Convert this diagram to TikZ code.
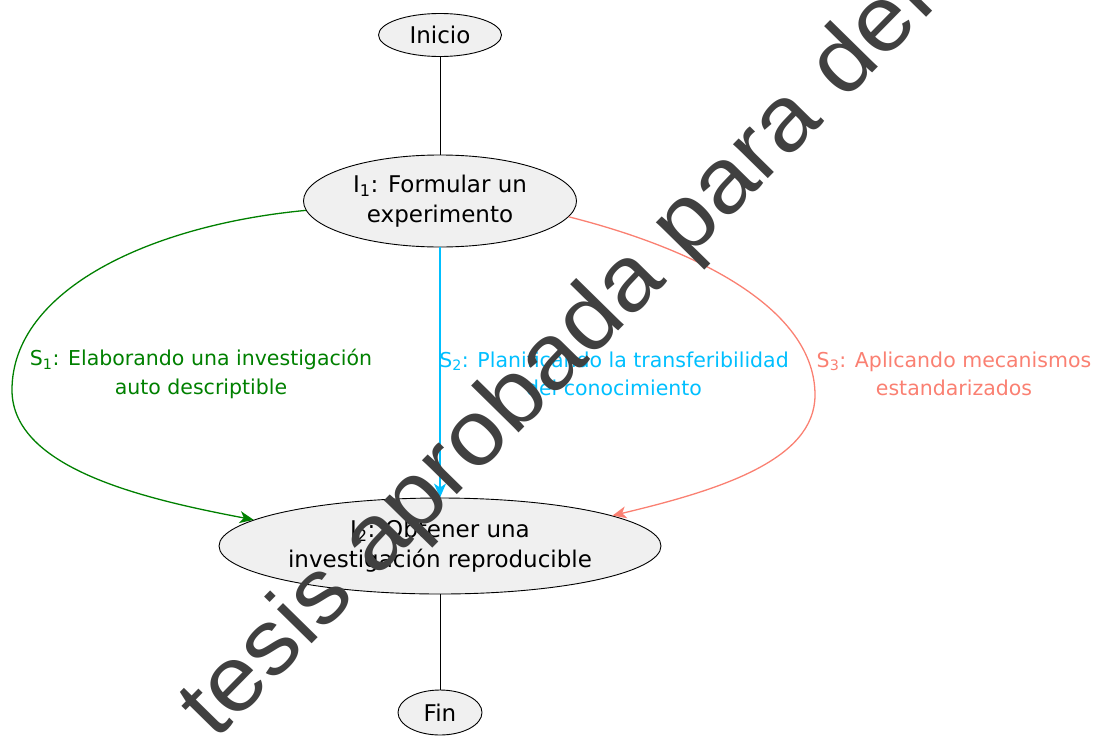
\documentclass[tikz,border=0pt]{standalone}
\usepackage{fontspec}
\setmainfont{DejaVu Sans}
\newfontfamily\wmfont[FakeStretch=1.07]{Liberation Sans}
\usetikzlibrary{shapes.geometric,arrows.meta}
\definecolor{nodefill}{HTML}{F0F0F0}
\definecolor{sgreen}{HTML}{008000}
\definecolor{sblue}{HTML}{00BFFF}
\definecolor{sred}{HTML}{FA8072}
\definecolor{wmgray}{HTML}{404040}
\begin{document}
\begin{tikzpicture}[x=1pt,y=-1pt,
  state/.style={ellipse,draw=black,line width=0.9pt,fill=nodefill,inner sep=0pt,align=center,font=\fontsize{23}{30}\selectfont},
  elabel/.style={align=center,font=\fontsize{20.5}{28.5}\selectfont},
  plain/.style={draw=black,line width=1pt},
  flow/.style={line width=1.3pt,-{Stealth[length=14pt,width=12pt,inset=4pt]}},
  watermark/.style={font=\wmfont\fontsize{92}{92}\selectfont,text=wmgray,rotate=45.5,anchor=base west,inner sep=0pt}
]
\useasboundingbox (0,0) rectangle (1099,736);
\clip (0,0) rectangle (1099,736);
\node[state,minimum width=123pt,minimum height=43pt] (inicio) at (440,35) {Inicio};
\node[state,minimum width=273pt,minimum height=92pt] (i1) at (440,201) {I\textsubscript{1}: Formular un\\experimento};
\node[state,minimum width=442pt,minimum height=96pt] (i2) at (440,546) {I\textsubscript{2}: Obtener una\\investigación reproducible};
\node[state,minimum width=84pt,minimum height=45pt] (fin) at (440,712.5) {Fin};

\draw[plain] (inicio) -- (i1);
\draw[plain] (i2) -- (fin);
\draw[flow,sblue] (i1) -- (i2);
\coordinate (gmid) at (12,390);
\draw[flow,sgreen] (i1.184) .. controls (150,225) and (12,290) .. (gmid) .. controls (12,470) and (150,500) .. (i2.172);
\coordinate (rmid) at (815,395);
\draw[flow,sred] (i1.-7) .. controls (700,250) and (815,310) .. (rmid) .. controls (815,460) and (720,490) .. (i2.10);

\node[elabel,text=sgreen] (s1) at (201,374) {S\textsubscript{1}: Elaborando una investigación\\auto descriptible};
\node[elabel,text=sblue] (s2) at (614,374) {S\textsubscript{2}: Planificando la transferibilidad\\del conocimiento};
\node[elabel,text=sred] (s3) at (954,374) {S\textsubscript{3}: Aplicando mecanismos\\estandarizados};

\node[watermark] (wm) at (215,742) {tesis aprobada para defensa};
\end{tikzpicture}
\end{document}
